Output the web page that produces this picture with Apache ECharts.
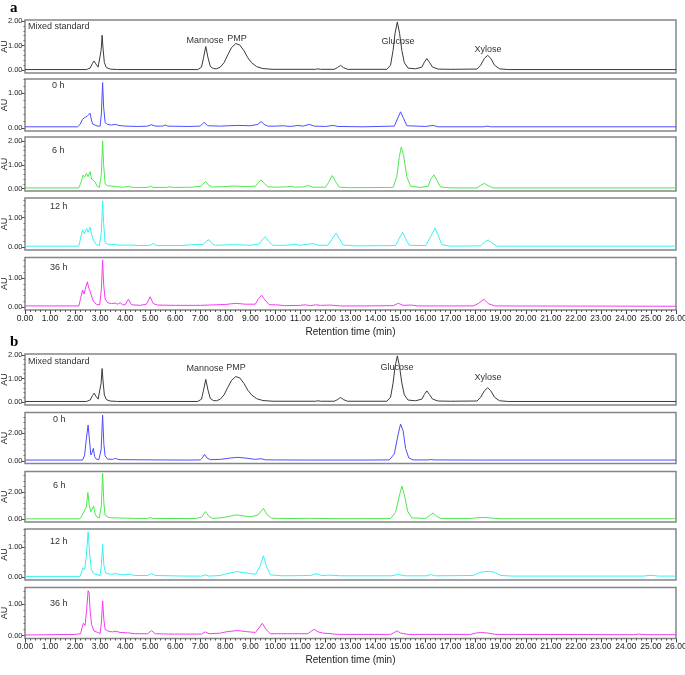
<!DOCTYPE html>
<html lang="en">
<head>
    <meta charset="UTF-8">
    <title>HPLC chromatograms</title>
    <style>
        html, body, #main {
            width: 100%;
            height: 100%;
            margin: 0;
            padding: 0;
            background: #fff;
        }
    </style>
    <script src="https://cdn.jsdelivr.net/npm/echarts@6/dist/echarts.min.js"></script>
</head>
<body>
    <div id="main"></div>
    <script>
        // retention time (min), absorbance (AU)
        var mixedStd = [[0,0.02],[2.45,0.02],[2.6,0.08],[2.7,0.28],[2.76,0.37],[2.83,0.25],[2.92,0.12],[2.99,0.2],[3.04,0.8],[3.08,1.42],[3.12,0.85],[3.17,0.3],[3.25,0.1],[3.4,0.04],[3.7,0.02],[6.9,0.02],[7.05,0.12],[7.13,0.5],[7.22,0.96],[7.31,0.5],[7.4,0.15],[7.52,0.06],[7.65,0.05],[7.8,0.12],[7.95,0.3],[8.1,0.62],[8.25,0.92],[8.42,1.08],[8.58,1.02],[8.75,0.78],[8.9,0.5],[9.05,0.3],[9.25,0.14],[9.5,0.06],[9.9,0.03],[11.6,0.03],[11.7,0.05],[11.8,0.03],[12.35,0.03],[12.48,0.1],[12.6,0.19],[12.72,0.1],[12.88,0.03],[14.45,0.03],[14.6,0.2],[14.7,0.8],[14.78,1.5],[14.87,1.96],[14.96,1.5],[15.05,0.8],[15.15,0.3],[15.3,0.08],[15.6,0.05],[15.85,0.12],[15.95,0.32],[16.05,0.47],[16.15,0.32],[16.28,0.12],[16.5,0.04],[17.0,0.03],[18.05,0.04],[18.2,0.2],[18.35,0.48],[18.48,0.6],[18.6,0.48],[18.75,0.2],[18.95,0.05],[19.3,0.02],[26,0.02]];

        var a0h = [[0,0.03],[2.1,0.03],[2.2,0.1],[2.3,0.25],[2.4,0.3],[2.5,0.35],[2.6,0.42],[2.66,0.2],[2.72,0.1],[2.8,0.08],[2.9,0.05],[3.0,0.05],[3.05,0.4],[3.1,1.3],[3.14,0.6],[3.2,0.15],[3.3,0.1],[3.45,0.08],[3.6,0.1],[3.75,0.07],[4.0,0.05],[4.5,0.04],[4.9,0.05],[5.05,0.09],[5.2,0.05],[5.5,0.05],[5.6,0.08],[5.7,0.05],[6.5,0.04],[7.0,0.05],[7.15,0.16],[7.3,0.06],[7.8,0.05],[8.5,0.07],[9.0,0.06],[9.3,0.1],[9.43,0.18],[9.55,0.1],[9.7,0.05],[10.0,0.05],[10.3,0.06],[10.6,0.04],[10.9,0.07],[11.1,0.05],[11.36,0.1],[11.55,0.05],[12.0,0.04],[12.3,0.07],[12.5,0.04],[13.5,0.03],[14.75,0.05],[14.9,0.3],[15.0,0.46],[15.1,0.3],[15.25,0.06],[16.0,0.04],[16.3,0.07],[16.5,0.03],[18.3,0.03],[18.45,0.05],[18.6,0.03],[26,0.03]];

        var a6h = [[0,0.03],[2.15,0.03],[2.25,0.3],[2.32,0.57],[2.38,0.48],[2.45,0.64],[2.52,0.5],[2.6,0.71],[2.66,0.4],[2.73,0.34],[2.8,0.28],[2.88,0.1],[2.97,0.05],[3.05,0.6],[3.1,2.0],[3.14,1.0],[3.2,0.2],[3.3,0.12],[3.6,0.09],[3.9,0.06],[4.15,0.09],[4.3,0.05],[4.9,0.05],[5.0,0.1],[5.15,0.05],[5.6,0.05],[5.75,0.07],[6.0,0.05],[6.7,0.06],[6.86,0.1],[7.0,0.08],[7.1,0.18],[7.21,0.3],[7.32,0.16],[7.45,0.07],[7.9,0.08],[8.3,0.11],[8.8,0.09],[9.2,0.1],[9.32,0.25],[9.43,0.37],[9.55,0.22],[9.7,0.08],[10.0,0.06],[10.4,0.07],[10.6,0.1],[10.8,0.06],[11.1,0.07],[11.3,0.13],[11.5,0.06],[12.0,0.06],[12.12,0.25],[12.27,0.55],[12.4,0.3],[12.55,0.06],[13.0,0.04],[14.7,0.05],[14.85,0.5],[14.95,1.35],[15.03,1.75],[15.12,1.4],[15.25,0.5],[15.4,0.1],[15.8,0.05],[16.1,0.1],[16.2,0.38],[16.33,0.58],[16.45,0.35],[16.6,0.07],[17.0,0.03],[18.05,0.03],[18.2,0.14],[18.35,0.22],[18.5,0.12],[18.7,0.03],[26,0.03]];

        var a12h = [[0,0.03],[2.15,0.03],[2.22,0.3],[2.3,0.58],[2.37,0.45],[2.46,0.63],[2.52,0.5],[2.6,0.67],[2.67,0.4],[2.73,0.24],[2.85,0.08],[2.97,0.05],[3.05,0.5],[3.1,1.56],[3.14,0.8],[3.2,0.15],[3.3,0.1],[3.6,0.08],[3.9,0.06],[4.2,0.07],[4.5,0.05],[5.0,0.06],[5.13,0.12],[5.28,0.05],[5.8,0.05],[6.2,0.05],[6.9,0.09],[7.1,0.08],[7.25,0.2],[7.35,0.25],[7.47,0.12],[7.6,0.06],[8.0,0.07],[8.4,0.08],[9.0,0.06],[9.35,0.1],[9.5,0.28],[9.6,0.35],[9.72,0.2],[9.9,0.06],[10.4,0.06],[10.8,0.09],[11.0,0.06],[11.5,0.12],[11.7,0.06],[12.1,0.06],[12.25,0.25],[12.42,0.47],[12.55,0.3],[12.7,0.07],[13.2,0.04],[14.8,0.05],[14.95,0.3],[15.08,0.5],[15.2,0.28],[15.35,0.06],[16.0,0.05],[16.2,0.35],[16.38,0.64],[16.5,0.4],[16.65,0.08],[17.0,0.03],[18.2,0.04],[18.35,0.17],[18.5,0.24],[18.65,0.14],[18.85,0.03],[26,0.03]];

        var a36h = [[0,0.04],[2.15,0.04],[2.22,0.3],[2.3,0.59],[2.36,0.45],[2.43,0.7],[2.49,0.87],[2.55,0.65],[2.6,0.55],[2.67,0.35],[2.73,0.2],[2.85,0.1],[2.98,0.07],[3.05,0.6],[3.1,1.62],[3.14,0.8],[3.2,0.28],[3.3,0.15],[3.45,0.12],[3.6,0.14],[3.7,0.1],[3.8,0.15],[3.9,0.08],[4.0,0.08],[4.13,0.27],[4.25,0.08],[4.6,0.06],[4.85,0.1],[5.0,0.36],[5.12,0.12],[5.3,0.07],[6.0,0.06],[7.0,0.06],[8.0,0.09],[8.4,0.13],[8.8,0.1],[9.2,0.1],[9.33,0.3],[9.45,0.41],[9.58,0.25],[9.75,0.08],[10.0,0.08],[10.4,0.05],[11.0,0.06],[11.2,0.08],[11.4,0.05],[11.6,0.08],[11.8,0.06],[12.2,0.07],[12.6,0.04],[13.5,0.04],[14.7,0.05],[14.91,0.13],[15.1,0.06],[15.44,0.07],[15.7,0.04],[16.5,0.04],[17.9,0.04],[18.1,0.12],[18.33,0.27],[18.5,0.12],[18.75,0.04],[26,0.03]];

        var b0h = [[0,0.05],[2.3,0.05],[2.38,0.4],[2.45,1.6],[2.52,2.6],[2.57,1.6],[2.63,0.42],[2.68,0.6],[2.73,0.9],[2.78,0.3],[2.85,0.12],[2.95,0.08],[3.04,0.8],[3.1,3.33],[3.15,1.2],[3.2,0.35],[3.3,0.12],[3.5,0.1],[3.62,0.17],[3.75,0.08],[5.5,0.06],[6.5,0.05],[7.0,0.06],[7.08,0.2],[7.17,0.47],[7.27,0.2],[7.4,0.08],[7.8,0.1],[8.2,0.2],[8.5,0.25],[8.8,0.2],[9.2,0.1],[9.43,0.15],[9.6,0.07],[10.0,0.06],[11.4,0.05],[13.5,0.05],[14.55,0.06],[14.75,0.5],[14.9,1.9],[15.0,2.68],[15.1,2.2],[15.2,0.9],[15.33,0.2],[15.5,0.06],[16.1,0.06],[16.2,0.09],[16.35,0.06],[18.3,0.05],[26,0.05]];

        var b6h = [[0,0.03],[2.2,0.03],[2.28,0.3],[2.33,0.46],[2.4,0.35],[2.45,0.9],[2.51,1.95],[2.57,1.0],[2.63,0.55],[2.68,0.75],[2.74,0.97],[2.8,0.4],[2.88,0.15],[2.97,0.1],[3.05,1.0],[3.1,3.35],[3.15,1.2],[3.2,0.3],[3.35,0.12],[3.6,0.1],[4.1,0.08],[4.5,0.06],[4.9,0.06],[5.0,0.13],[5.12,0.06],[6.8,0.05],[7.05,0.15],[7.21,0.56],[7.35,0.2],[7.5,0.06],[7.9,0.12],[8.45,0.32],[9.0,0.18],[9.3,0.3],[9.52,0.8],[9.68,0.3],[9.85,0.08],[10.5,0.05],[11.4,0.07],[12.5,0.04],[14.6,0.05],[14.8,0.5],[14.95,1.7],[15.05,2.42],[15.15,1.8],[15.28,0.6],[15.45,0.1],[16.0,0.06],[16.15,0.25],[16.3,0.46],[16.45,0.2],[16.6,0.06],[17.8,0.06],[18.1,0.12],[18.4,0.13],[18.7,0.07],[19.0,0.04],[26,0.04]];

        var b12h = [[0,0.03],[2.2,0.03],[2.27,0.2],[2.32,0.32],[2.38,0.25],[2.45,0.7],[2.52,1.52],[2.58,0.8],[2.65,0.25],[2.75,0.12],[2.9,0.08],[3.0,0.06],[3.05,0.4],[3.1,1.1],[3.15,0.4],[3.22,0.15],[3.4,0.1],[3.63,0.12],[3.9,0.08],[4.15,0.1],[4.4,0.06],[4.9,0.06],[5.05,0.13],[5.2,0.06],[6.5,0.04],[7.05,0.04],[7.2,0.08],[7.35,0.04],[7.8,0.06],[8.1,0.13],[8.45,0.19],[8.8,0.15],[9.2,0.1],[9.38,0.35],[9.52,0.72],[9.65,0.35],[9.8,0.08],[10.3,0.05],[11.4,0.06],[11.65,0.12],[11.85,0.06],[12.2,0.07],[12.6,0.05],[14.6,0.05],[14.9,0.09],[15.2,0.05],[16.05,0.05],[16.2,0.09],[16.4,0.05],[17.9,0.06],[18.2,0.17],[18.5,0.2],[18.75,0.17],[19.0,0.06],[19.5,0.04],[24.7,0.04],[25.0,0.07],[25.3,0.04],[26,0.04]];

        var b36h = [[0,0.02],[1.0,0.03],[2.0,0.04],[2.22,0.06],[2.28,0.25],[2.33,0.39],[2.4,0.32],[2.46,0.8],[2.52,1.42],[2.56,1.35],[2.6,0.8],[2.66,0.35],[2.75,0.15],[2.9,0.1],[3.0,0.07],[3.05,0.4],[3.1,1.1],[3.15,0.5],[3.2,0.2],[3.35,0.13],[3.5,0.12],[3.63,0.14],[3.8,0.1],[4.1,0.09],[4.4,0.06],[4.9,0.06],[5.05,0.16],[5.2,0.06],[5.75,0.05],[6.4,0.05],[7.05,0.05],[7.2,0.12],[7.35,0.06],[7.8,0.08],[8.1,0.13],[8.5,0.16],[8.8,0.13],[9.2,0.1],[9.35,0.25],[9.48,0.39],[9.62,0.2],[9.8,0.06],[10.5,0.06],[11.3,0.06],[11.45,0.15],[11.55,0.2],[11.7,0.12],[11.9,0.08],[12.1,0.07],[12.5,0.04],[14.6,0.04],[14.75,0.1],[14.87,0.15],[15.0,0.08],[15.3,0.04],[17.8,0.04],[18.0,0.08],[18.2,0.1],[18.5,0.08],[18.8,0.04],[24.3,0.03],[24.5,0.05],[24.8,0.03],[26,0.03]];

        var sampleNames = ['Mixed standard', '0 h', '6 h', '12 h', '36 h'];
        var peakNames = ['Mannose', 'PMP', 'Glucose', 'Xylose'];

        var black = '#3a3a3a', blue = '#4d4dff', green = '#4ee84e', cyan = '#36f2f2', magenta = '#f23cf2';

        // layout of the ten stacked panels (pixels) and their y ranges
        var panels = [
            { trace: mixedStd, color: black,   name: 0, top: 20,    bottom: 73,    min: -0.12, max: 2.04, ticks: [0, 1, 2], nx: 28, ny: 28 },
            { trace: a0h,      color: blue,    name: 1, top: 79,    bottom: 131,   min: -0.09, max: 1.40, ticks: [0, 1],    nx: 52, ny: 87 },
            { trace: a6h,      color: green,   name: 2, top: 137,   bottom: 191,   min: -0.10, max: 2.17, ticks: [0, 1, 2], nx: 52, ny: 152 },
            { trace: a12h,     color: cyan,    name: 3, top: 198,   bottom: 250,   min: -0.10, max: 1.66, ticks: [0, 1],    nx: 50, ny: 208 },
            { trace: a36h,     color: magenta, name: 4, top: 257.5, bottom: 310,   min: -0.10, max: 1.71, ticks: [0, 1],    nx: 50, ny: 269, axis: true },
            { trace: mixedStd, color: black,   name: 0, top: 354,   bottom: 405,   min: -0.13, max: 2.04, ticks: [0, 1, 2], nx: 28, ny: 363 },
            { trace: b0h,      color: blue,    name: 1, top: 412.5, bottom: 463.5, min: -0.20, max: 3.52, ticks: [0, 2],    nx: 53, ny: 421 },
            { trace: b6h,      color: green,   name: 2, top: 471.5, bottom: 522,   min: -0.20, max: 3.49, ticks: [0, 2],    nx: 53, ny: 487 },
            { trace: b12h,     color: cyan,    name: 3, top: 529,   bottom: 580,   min: -0.09, max: 1.61, ticks: [0, 1],    nx: 50, ny: 543 },
            { trace: b36h,     color: magenta, name: 4, top: 587.5, bottom: 638.5, min: -0.09, max: 1.52, ticks: [0, 1],    nx: 50, ny: 605, axis: true }
        ];

        var plainFont = 'Liberation Sans, Arial, sans-serif';
        var grids = [], xAxes = [], yAxes = [], series = [], graphics = [];

        function fmt(v) { return v.toFixed(2); }

        // small ticks between the labelled ones on the AU axis
        function minorValues(p) {
            var step = (p.ticks[1] - p.ticks[0]) / 5, out = [];
            for (var v = 0; v <= p.max + 1e-9; v += step) out.push(+v.toFixed(3));
            return out;
        }

        panels.forEach(function (p, i) {
            grids.push({
                left: 25, right: 9, top: p.top, height: p.bottom - p.top,
                containLabel: false, outerBoundsMode: 'none',
                show: true, borderColor: '#858585', borderWidth: 1.5
            });
            xAxes.push({
                type: 'value', gridIndex: i, min: 0, max: 26, interval: 1,
                axisLine: { show: false, onZero: false },
                splitLine: { show: false },
                axisTick: { show: !!p.axis, length: 4, lineStyle: { color: '#444' } },
                minorTick: { show: !!p.axis, splitNumber: 5, length: 2, lineStyle: { color: '#555' } },
                axisLabel: {
                    show: !!p.axis, margin: 4, fontSize: 8.5, color: '#222', fontFamily: plainFont,
                    hideOverlap: false, formatter: fmt
                },
                name: p.axis ? 'Retention time (min)' : '',
                nameLocation: 'middle', nameGap: 17, nameMoveOverlap: false,
                nameTextStyle: { fontSize: 10, color: '#222', fontFamily: plainFont }
            });
            yAxes.push({
                type: 'value', gridIndex: i, min: p.min, max: p.max,
                axisLine: { show: false, onZero: false },
                splitLine: { show: false },
                axisTick: { show: true, customValues: p.ticks, length: 3, lineStyle: { color: '#444' } },
                axisLabel: {
                    customValues: p.ticks, margin: 2.5, fontSize: 7.5, color: '#222', fontFamily: plainFont,
                    formatter: fmt
                },
                name: 'AU', nameLocation: 'middle', nameGap: 15.5, nameRotate: 90, nameMoveOverlap: false,
                nameTextStyle: { fontSize: 9, color: '#222', fontFamily: plainFont }
            });
            series.push({
                type: 'line', xAxisIndex: i, yAxisIndex: i,
                data: p.trace, showSymbol: false, smooth: false,
                lineStyle: { color: p.color, width: 1 },
                silent: true, animation: false
            });
            graphics.push({
                type: 'text', left: p.nx, top: p.ny - 6,
                style: { text: sampleNames[p.name], fontSize: 9, fill: '#333', fontFamily: plainFont }
            });
        });

        // second, tick-only AU axis per panel for the minor marks
        panels.forEach(function (p, i) {
            yAxes.push({
                type: 'value', gridIndex: i, min: p.min, max: p.max, position: 'left',
                axisLine: { show: false, onZero: false },
                splitLine: { show: false },
                axisLabel: { show: false },
                axisTick: { show: true, customValues: minorValues(p), length: 1.5, lineStyle: { color: '#666' } }
            });
        });

        // peak labels above the two standards
        var peakPosA = [[205, 41], [237, 39], [398, 42], [488, 50]];
        var peakPosB = [[205, 369], [236, 368], [397, 368], [488, 378]];
        [peakPosA, peakPosB].forEach(function (set) {
            set.forEach(function (q, k) {
                graphics.push({
                    type: 'text', x: q[0], y: q[1],
                    style: { text: peakNames[k], fontSize: 9, fill: '#333', align: 'center', verticalAlign: 'middle', fontFamily: plainFont }
                });
            });
        });

        graphics.push({ type: 'text', left: 10, top: 1, style: { text: 'a', fontSize: 15, fontWeight: 'bold', fill: '#000', fontFamily: 'Liberation Serif, serif' } });
        graphics.push({ type: 'text', left: 10, top: 335, style: { text: 'b', fontSize: 15, fontWeight: 'bold', fill: '#000', fontFamily: 'Liberation Serif, serif' } });

        var chart = echarts.init(document.getElementById('main'));
        chart.setOption({
            animation: false,
            grid: grids,
            xAxis: xAxes,
            yAxis: yAxes,
            series: series,
            graphic: graphics
        });
    </script>
</body>
</html>
